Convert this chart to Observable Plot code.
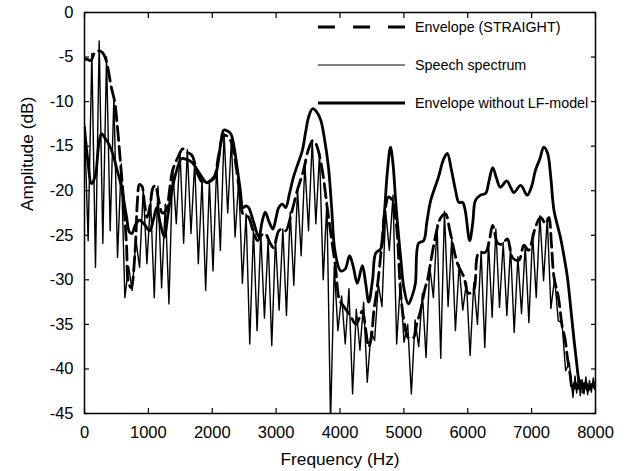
<!DOCTYPE html>
<html><head><meta charset="utf-8">
<script src="https://cdn.jsdelivr.net/npm/d3@7"></script>
<script src="https://cdn.jsdelivr.net/npm/@observablehq/plot@0.6"></script>
<style>
body{margin:0;background:#fff;}
#wrap{position:relative;width:643px;height:471px;}
#legend{position:absolute;left:0;top:0;}
</style></head><body><div id="wrap"></div>
<script>
// ---- data (frequency Hz, amplitude dB) ----
const xTicks = [0,1000,2000,3000,4000,5000,6000,7000,8000];
const yTicks = [-45,-40,-35,-30,-25,-20,-15,-10,-5,0];
const xLabel = "Frequency (Hz)";
const yLabel = "Amplitude (dB)";
const seriesNames = ["Envelope (STRAIGHT)", "Speech spectrum", "Envelope without LF-model"];

const envelopeStraight = [[0,-5.2],[60,-5.3],[100,-5.4],[160,-4.5],[220,-4.3],[280,-4.5],[340,-5.4],[380,-6.8],[420,-8.4],[470,-9.9],[520,-13.2],[560,-16.6],[600,-20],[630,-23],[660,-26.4],[685,-30.2],[730,-30.9],[790,-27],[830,-21],[860,-19.3],[900,-19.5],[940,-21.5],[980,-23],[1030,-21.5],[1070,-19.7],[1110,-19.4],[1160,-21],[1220,-22.5],[1280,-22.2],[1330,-20],[1380,-17.7],[1460,-16.3],[1540,-15.3],[1610,-15.7],[1680,-16],[1770,-18.1],[1840,-19],[1910,-19.1],[1980,-18.8],[2040,-18.3],[2100,-16],[2180,-13.8],[2240,-13.9],[2290,-14.4],[2340,-15.8],[2390,-18.1],[2440,-20.8],[2480,-22.6],[2530,-22.8],[2570,-23],[2640,-24.5],[2710,-25.6],[2770,-25],[2830,-24.8],[2900,-25.8],[2960,-26.4],[3040,-24.5],[3100,-24.3],[3150,-24.5],[3240,-22.5],[3330,-20],[3430,-17.7],[3500,-15.5],[3570,-14.4],[3620,-14.7],[3660,-15.5],[3700,-16.8],[3740,-18.5],[3800,-21.9],[3860,-25],[3930,-28.6],[3980,-32],[4010,-32.5],[4080,-33.2],[4160,-34],[4250,-35],[4350,-33.5],[4400,-35.5],[4450,-37.5],[4490,-36.5],[4530,-33.5],[4580,-31],[4620,-28.5],[4660,-25.5],[4700,-22.5],[4760,-20.7],[4820,-21.1],[4870,-23],[4900,-25.2],[4950,-31.5],[5010,-35],[5070,-36.5],[5150,-36.5],[5200,-35],[5260,-33.5],[5330,-31],[5370,-30],[5420,-28],[5470,-26],[5530,-24],[5580,-23],[5650,-22.6],[5720,-24.5],[5780,-26.5],[5840,-28.2],[5940,-29.7],[6010,-31.5],[6090,-31.2],[6170,-27],[6280,-26.9],[6340,-25.5],[6390,-23.9],[6470,-25.9],[6540,-26],[6620,-25.4],[6700,-27.5],[6800,-27.8],[6880,-26.1],[6950,-26.7],[7060,-24.1],[7140,-23],[7220,-23.7],[7270,-23],[7310,-26],[7350,-29.7],[7420,-32],[7480,-35.3],[7520,-36.5],[7560,-38.7],[7600,-40.5],[7640,-42.4],[7680,-41.5],[7720,-42.5],[7760,-41.3],[7800,-42.6],[7850,-41.6],[7900,-42.3],[7950,-41.7],[8000,-42.2]];

const envelopeNoLF = [[0,-12.9],[50,-16.5],[110,-19.2],[170,-18.3],[220,-15],[265,-13.6],[330,-14.2],[390,-14.9],[450,-16],[500,-17.4],[580,-19.6],[620,-21.3],[660,-23],[700,-24.6],[740,-24.8],[800,-23.8],[860,-23.3],[940,-23.8],[1020,-24.5],[1080,-23.2],[1130,-21.9],[1190,-23.8],[1250,-25.2],[1300,-23],[1360,-20.3],[1440,-17.8],[1520,-16.4],[1600,-16.5],[1680,-16.8],[1770,-17.7],[1840,-18.5],[1910,-19.1],[1980,-18.9],[2040,-18.5],[2100,-16.5],[2140,-14.3],[2180,-13.2],[2240,-13.3],[2290,-13.6],[2340,-15],[2390,-17.4],[2440,-20],[2480,-21.9],[2530,-21.7],[2570,-21.9],[2650,-23.6],[2730,-25.2],[2780,-23.5],[2830,-22.4],[2890,-23.5],[2950,-24.3],[3000,-23],[3040,-21.9],[3100,-21.5],[3150,-21.9],[3210,-20.3],[3270,-18.5],[3340,-17],[3410,-15.5],[3460,-13.5],[3510,-11.7],[3570,-10.8],[3640,-11.2],[3700,-12.1],[3760,-14.3],[3820,-17.4],[3870,-22],[3920,-26.7],[4010,-29],[4080,-28.8],[4150,-27.3],[4210,-28.6],[4270,-30.4],[4350,-28.4],[4400,-30.3],[4450,-32.5],[4510,-30],[4560,-27],[4640,-26.5],[4690,-23],[4740,-18],[4790,-15.1],[4830,-17],[4870,-21],[4900,-23.7],[4950,-27.5],[5000,-30.9],[5070,-32.7],[5130,-31.8],[5180,-30.4],[5230,-25.9],[5310,-25.6],[5360,-23.5],[5420,-21.1],[5540,-18.5],[5620,-16.5],[5680,-15.8],[5740,-17.5],[5810,-20],[5860,-21.3],[5920,-21.3],[5960,-22.2],[6030,-25.6],[6080,-23.5],[6120,-21.1],[6200,-20.5],[6280,-20.3],[6330,-19],[6390,-17.4],[6450,-18.6],[6510,-19.6],[6610,-18.9],[6670,-19.6],[6720,-20.2],[6830,-19.4],[6930,-20.5],[7000,-19.5],[7060,-17.7],[7130,-16.4],[7190,-15.1],[7250,-15.8],[7300,-18.5],[7350,-22.2],[7450,-25.2],[7510,-27.5],[7560,-29.7],[7610,-33],[7660,-36.5],[7700,-39],[7740,-41.3],[7780,-42.2],[7830,-41.6],[7880,-42.4],[7940,-41.9],[8000,-42.2]];

const speechSpectrum = [[0,-12.5],[57,-25.6],[115,-4.6],[172,-28.6],[230,-3.2],[287,-25.9],[345,-5],[402,-24.5],[460,-9.5],[517,-27.5],[575,-17],[632,-32],[690,-28.5],[747,-31.2],[805,-25.5],[862,-28.6],[920,-19.8],[977,-28.2],[1035,-21],[1092,-32],[1150,-19.5],[1207,-30.9],[1265,-21.5],[1322,-32.7],[1380,-17.5],[1437,-23.7],[1495,-15.6],[1552,-25.9],[1610,-15.4],[1667,-24.8],[1725,-16.8],[1782,-28.2],[1840,-18.8],[1897,-31.2],[1955,-19],[2012,-29],[2070,-17],[2127,-26.7],[2185,-13.6],[2242,-22.5],[2300,-14.3],[2357,-25.2],[2415,-18.8],[2472,-30.4],[2530,-22.6],[2587,-37.2],[2645,-24.3],[2702,-35.7],[2760,-24.8],[2817,-34.3],[2875,-25.5],[2932,-37.4],[2990,-25.4],[3047,-33.4],[3105,-24.3],[3162,-34],[3220,-22.4],[3277,-30.6],[3335,-19.8],[3392,-27.3],[3450,-17],[3507,-24.5],[3565,-14.3],[3622,-23.7],[3680,-15.8],[3737,-30],[3795,-21.3],[3852,-46],[3910,-28.5],[3967,-35.7],[4025,-31.8],[4082,-37.2],[4140,-31],[4197,-42.8],[4255,-33.3],[4312,-37.9],[4370,-32.5],[4427,-41.5],[4485,-35.8],[4542,-36.8],[4600,-30.5],[4657,-33],[4715,-22.3],[4772,-26.7],[4830,-20.5],[4887,-37.2],[4945,-30.3],[5002,-37],[5060,-35],[5117,-42.8],[5175,-34.5],[5232,-37.5],[5290,-31.5],[5347,-38.7],[5405,-28.5],[5462,-32],[5520,-23.8],[5577,-38.8],[5635,-22.3],[5692,-33],[5750,-25.3],[5807,-35.7],[5865,-28.3],[5922,-33.4],[5980,-30.3],[6037,-38.5],[6095,-30.3],[6152,-35],[6210,-26.8],[6267,-37.6],[6325,-25.8],[6382,-34.2],[6440,-24.3],[6497,-33.1],[6555,-25.8],[6612,-34],[6670,-26.3],[6727,-35.9],[6785,-27.4],[6842,-33.8],[6900,-26.1],[6957,-34.8],[7015,-24.8],[7072,-32],[7130,-22.8],[7187,-30.1],[7245,-23.1],[7302,-33.2],[7360,-29.8],[7417,-34.6],[7475,-34.8],[7532,-40.2],[7590,-39.3],[7647,-43.2],[7680,-40.8],[7705,-42.7],[7735,-40.9],[7762,-43],[7790,-41.2],[7820,-42.8],[7850,-40.9],[7877,-42.9],[7905,-41.3],[7935,-42.6],[7965,-41],[8000,-42.4]];

// ---- chart ----
const FONT = "'Liberation Sans', Arial, Helvetica, sans-serif";
const fx = d => d[0], fy = d => d[1];
const fmt = d => String(d);

const chart = Plot.plot({
  width: 643, height: 471,
  marginLeft: 84, marginRight: 48, marginTop: 12, marginBottom: 58,
  style: {fontFamily: FONT, background: "white", color: "black"},
  x: {domain: [0, 8000]},
  y: {domain: [-45, 0]},
  marks: [
    Plot.line(speechSpectrum, {x: fx, y: fy, stroke: "black", strokeWidth: 1.4, clip: true}),
    Plot.line(envelopeStraight, {x: fx, y: fy, stroke: "black", strokeWidth: 2.8, strokeDasharray: "14,6", curve: "catmull-rom", clip: true}),
    Plot.line(envelopeNoLF, {x: fx, y: fy, stroke: "black", strokeWidth: 2.8, curve: "catmull-rom", clip: true}),
    Plot.frame({stroke: "black", strokeWidth: 1.5}),
    Plot.axisX(xTicks, {anchor: "bottom", tickSize: -5, tickFormat: () => "", label: null, strokeWidth: 1.2}),
    Plot.axisX(xTicks, {anchor: "top", tickSize: -5, tickFormat: () => "", label: null, strokeWidth: 1.2}),
    Plot.axisY(yTicks, {anchor: "left", tickSize: -5, tickFormat: () => "", label: null, strokeWidth: 1.2}),
    Plot.axisY(yTicks, {anchor: "right", tickSize: -5, tickFormat: () => "", label: null, strokeWidth: 1.2}),
    Plot.axisX(xTicks, {anchor: "bottom", tickSize: 0, tickPadding: 13, tickFormat: fmt, fontSize: 16.5, label: null}),
    Plot.axisY(yTicks, {anchor: "left", tickSize: 0, tickPadding: 11, tickFormat: fmt, fontSize: 16.5, label: null}),
    Plot.text([xLabel], {frameAnchor: "bottom", dy: 46, fontSize: 17.3, lineAnchor: "middle"}),
    Plot.text([yLabel], {frameAnchor: "left", dx: -57, dy: -2, rotate: -90, fontSize: 17.3, lineAnchor: "middle"})
  ]
});
const wrap = document.getElementById("wrap");
wrap.appendChild(chart);

// ---- legend (inside plot, top right) ----
const legendStyles = [
  {width: 3, dash: "17,18"},
  {width: 1.1, dash: null},
  {width: 3, dash: null}
];
const leg = d3.select(wrap).append("svg").attr("id", "legend")
  .attr("width", 643).attr("height", 130);
const rows = leg.selectAll("g").data(seriesNames).join("g")
  .attr("transform", (d, i) => `translate(0,${27 + i * 38})`);
rows.append("line").attr("x1", 318).attr("x2", 405)
  .attr("stroke", "black")
  .attr("stroke-width", (d, i) => legendStyles[i].width)
  .attr("stroke-dasharray", (d, i) => legendStyles[i].dash);
rows.append("text").attr("x", 415).attr("dominant-baseline", "central")
  .style("font-family", FONT).style("font-size", "14.3px").text(d => d);
</script></body></html>
